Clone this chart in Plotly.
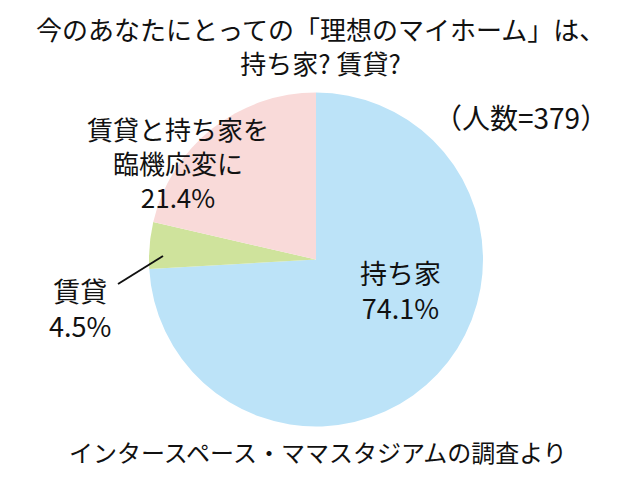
import plotly.graph_objects as go

W, H = 640, 480
OFF = 8  # page body margin offset

categories = ["持ち家", "賃貸", "賃貸と持ち家を臨機応変に"]
values = [74.1, 4.5, 21.4]
label_texts = ["持ち家<br>74.1%", "賃貸<br>4.5%", "賃貸と持ち家を<br>臨機応変に<br>21.4%"]
colors = ["#bce3f8", "#cfe39c", "#f9dad9"]

title_lines = ["今のあなたにとっての「理想のマイホーム」は、", "持ち家? 賃貸?"]
sample_note = "（人数=379）"
source_note = "インタースペース・ママスタジアムの調査より"

FONT = "Noto Sans CJK JP, Noto Sans, sans-serif"


def px(x):
    return (x - OFF) / W


def py(y):
    return 1 - (y - OFF) / H


cx, cy, r = 316, 259.5, 167

fig = go.Figure()
fig.add_trace(go.Pie(
    labels=categories,
    values=values,
    sort=False,
    direction="clockwise",
    rotation=0,
    marker=dict(colors=colors, line=dict(width=0)),
    textinfo="none",
    hoverinfo="label+percent",
    showlegend=False,
    domain=dict(x=[px(cx - r), px(cx + r)], y=[py(cy + r), py(cy - r)]),
))

anns = []
anns.append(dict(x=px(320), y=1.0, text="<br>".join(title_lines), font=dict(size=26), yanchor="top"))
anns.append(dict(x=px(521), y=py(117), text=sample_note, font=dict(size=28)))
anns.append(dict(x=px(400), y=py(290), text=label_texts[0], font=dict(size=27)))
anns.append(dict(x=px(80), y=py(308), text=label_texts[1], font=dict(size=27)))
anns.append(dict(x=px(178), y=py(162), text=label_texts[2], font=dict(size=26)))
anns.append(dict(x=px(318), y=py(451), text=source_note, font=dict(size=24)))

for a in anns:
    a.setdefault("yanchor", "middle")
    a.update(xref="paper", yref="paper", showarrow=False,
             xanchor="center", align="center")
    a["font"].update(family=FONT, color="#111111")

fig.update_layout(
    width=W, height=H,
    margin=dict(l=0, r=0, t=0, b=0),
    paper_bgcolor="white",
    plot_bgcolor="white",
    annotations=anns,
    shapes=[dict(type="line", xref="paper", yref="paper",
                 x0=px(118), y0=py(284), x1=px(163), y1=py(256),
                 line=dict(color="#111111", width=2))],
)

fig.write_html("out.html")
